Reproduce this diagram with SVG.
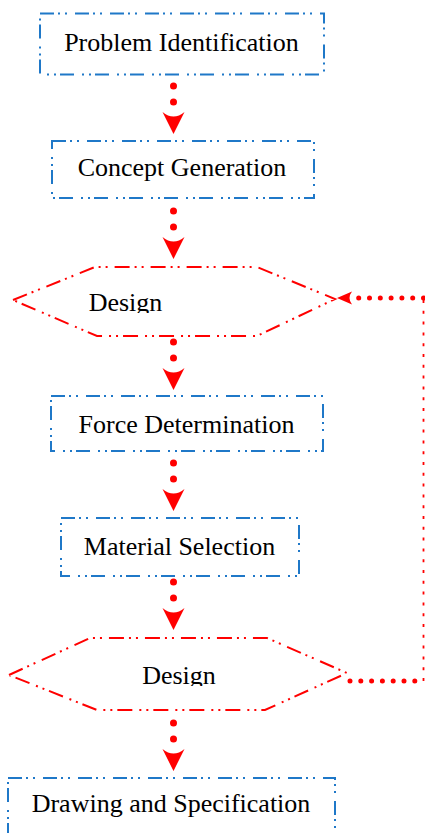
<svg xmlns="http://www.w3.org/2000/svg" width="425" height="833" viewBox="0 0 425 833">
<style>
.box{fill:#fff;stroke:#1f78c8;stroke-width:2;stroke-dasharray:14 4 2 5 2 8}
.hex{fill:#fff;stroke:#ff0000;stroke-width:2;stroke-dasharray:15 5 2 5 2 7}
.lbl{font-family:"Liberation Serif","Times New Roman",serif;font-size:26px;fill:#000;text-anchor:middle}
.flow{fill:none;stroke:#ff0000;stroke-width:7;stroke-linecap:round;stroke-dasharray:0 16}
.fb{fill:none;stroke:#ff0000;stroke-width:5;stroke-linecap:round;stroke-dasharray:0 10.8}
.fbv{fill:none;stroke:#ff0000;stroke-width:1.8;stroke-dasharray:3 7.8}
</style>
<defs>
<marker id="ah" markerUnits="userSpaceOnUse" viewBox="0 -12 24 24" markerWidth="24" markerHeight="24" refX="6" refY="0" orient="auto">
<path d="M0,-11 Q9,0 0,11 L22,0 Z" fill="#ff0000"/>
</marker>
<marker id="ahs" markerUnits="userSpaceOnUse" viewBox="0 -8 16 16" markerWidth="16" markerHeight="16" refX="0" refY="0" orient="auto">
<path d="M0,-6.5 Q5,0 0,6.5 L15,0 Z" fill="#ff0000"/>
</marker>
<clipPath id="c1"><rect x="0" y="250" width="340" height="63"/></clipPath>
<clipPath id="c2"><rect x="0" y="630" width="350" height="56"/></clipPath>
</defs>

<g id="connectors">
<path class="flow" d="M173.5,86 V118" marker-end="url(#ah)"/>
<path class="flow" d="M173.5,211 V243" marker-end="url(#ah)"/>
<path class="flow" d="M173.5,342 V374" marker-end="url(#ah)"/>
<path class="flow" d="M173.5,463 V495" marker-end="url(#ah)"/>
<path class="flow" d="M173.5,582 V614" marker-end="url(#ah)"/>
<path class="flow" d="M173.5,723 V755" marker-end="url(#ah)"/>
<path class="fb" d="M350,681 H423.5"/>
<path class="fbv" d="M423.5,681 V298"/>
<path class="fb" d="M423.5,298 H352" marker-end="url(#ahs)"/>
</g>

<g id="problem-identification">
<rect class="box" x="40" y="13.5" width="284" height="61"/>
<text class="lbl" x="181.5" y="51">Problem Identification</text>
</g>
<g id="concept-generation">
<rect class="box" x="52" y="141" width="262" height="57"/>
<text class="lbl" x="182" y="176">Concept Generation</text>
</g>
<g id="design-1">
<polygon class="hex" points="13,300 95,267 257,267 335,299 257,336 97,336"/>
<text class="lbl" x="125.5" y="311" clip-path="url(#c1)">Design</text>
</g>
<g id="force-determination">
<rect class="box" x="51" y="396" width="272" height="55"/>
<text class="lbl" x="186.5" y="433">Force Determination</text>
</g>
<g id="material-selection">
<rect class="box" x="61" y="518" width="238" height="58"/>
<text class="lbl" x="179.5" y="555">Material Selection</text>
</g>
<g id="design-2">
<polygon class="hex" points="9,675 90,638 267,638 347,673 265,710 97,710"/>
<text class="lbl" x="179" y="684" clip-path="url(#c2)">Design</text>
</g>
<g id="drawing-specification">
<rect class="box" x="8" y="778" width="327" height="70"/>
<text class="lbl" x="171" y="812">Drawing and Specification</text>
</g>
</svg>
